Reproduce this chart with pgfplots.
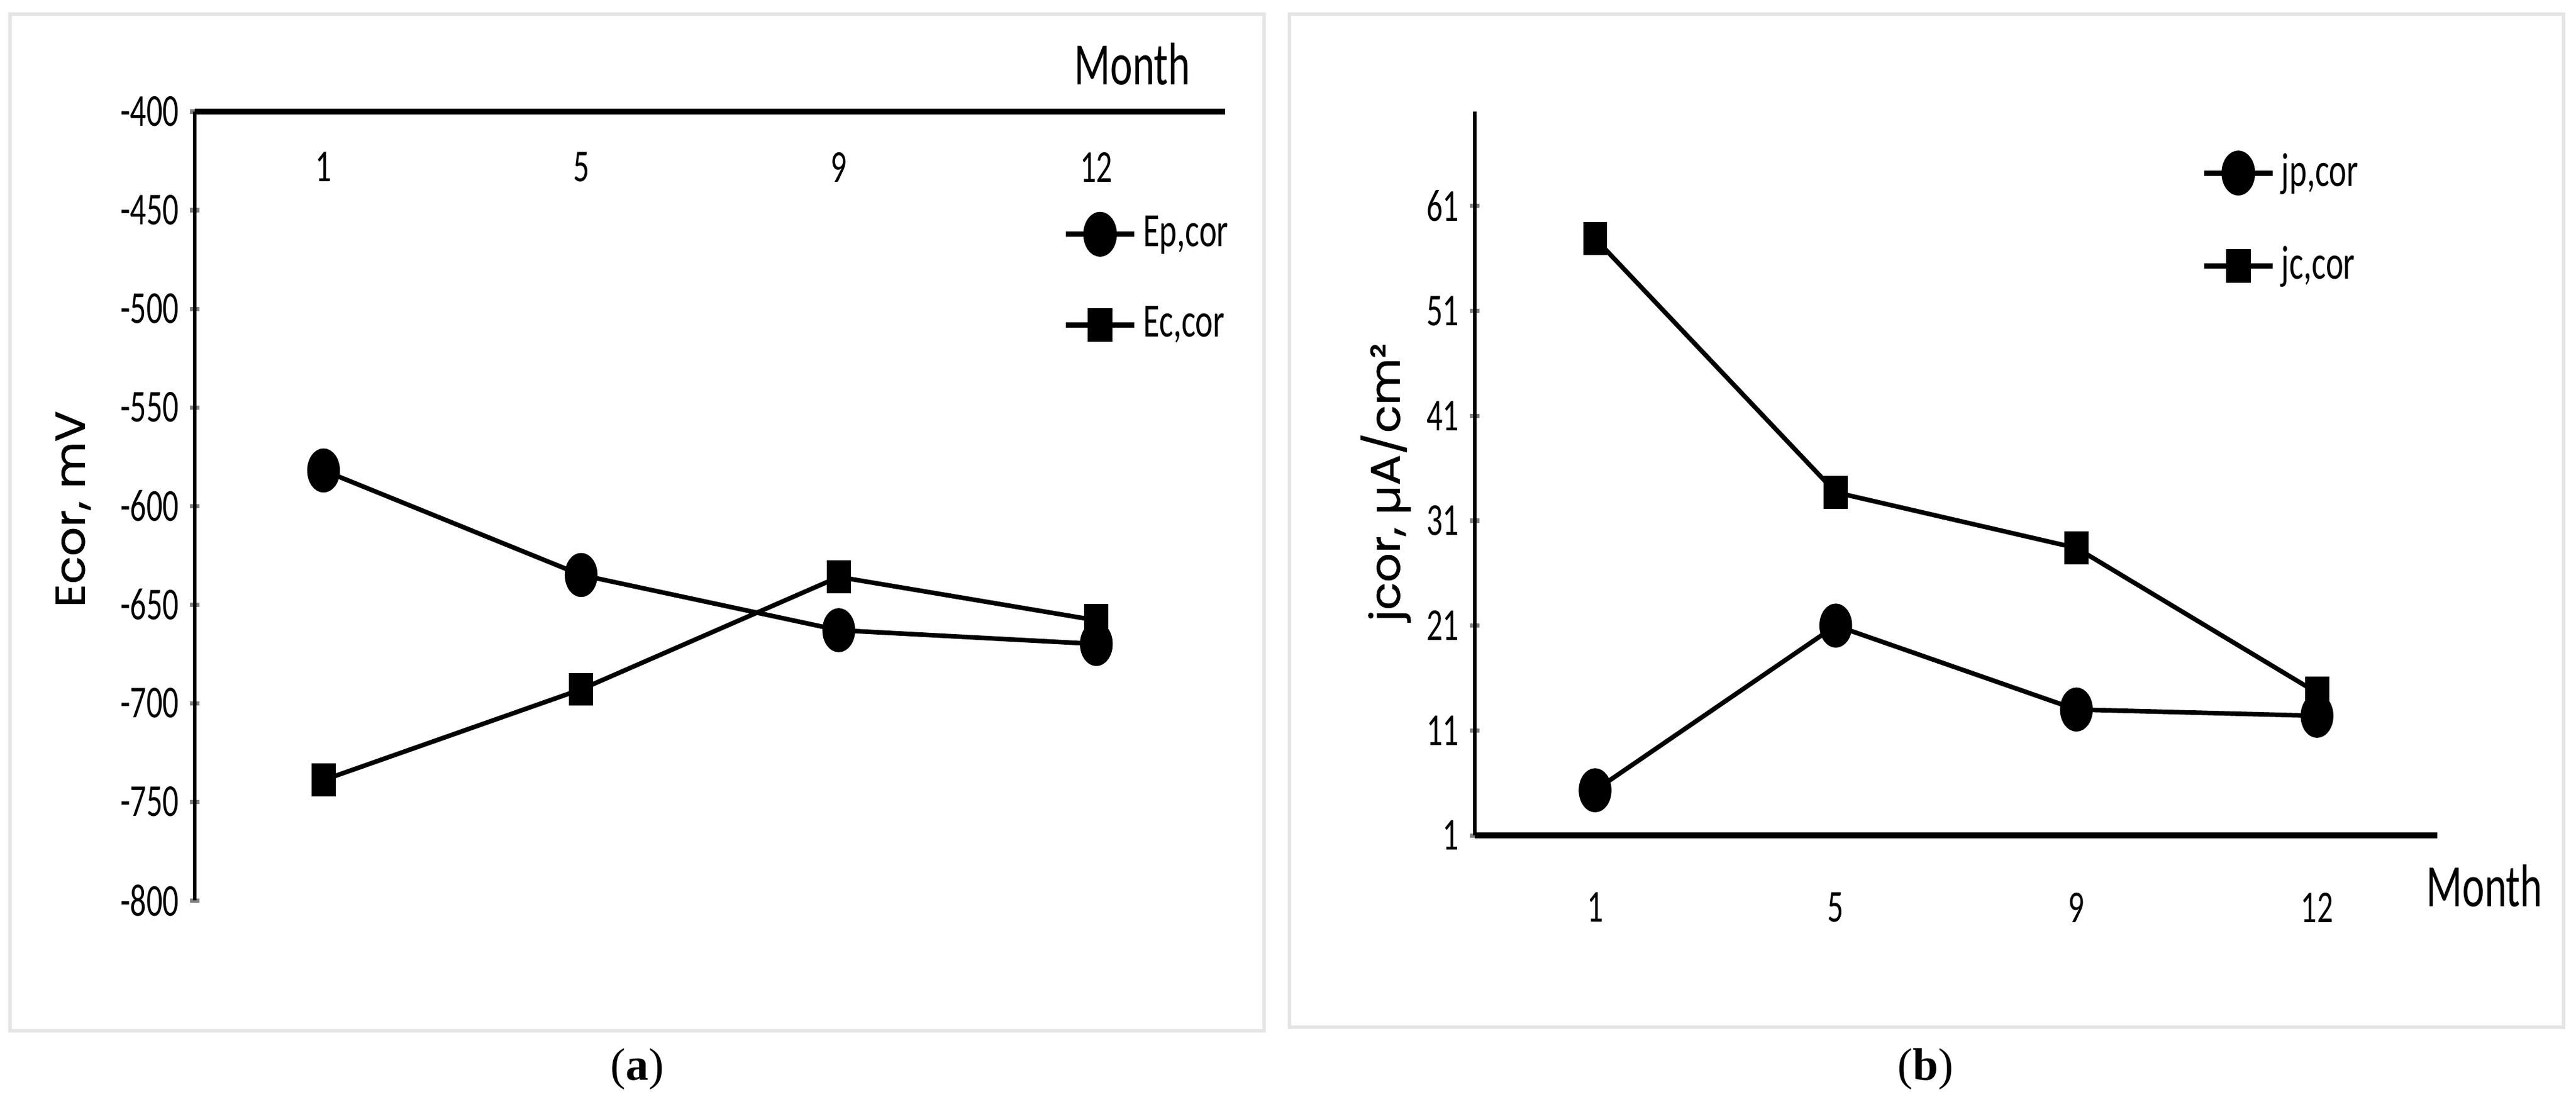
\documentclass[border=0pt]{standalone}
\usepackage{fontspec}
\setmainfont{Carlito}
\newfontfamily\labfont[FakeBold=0.8]{Poppins}
\newfontfamily\capfont{Liberation Serif}
\usepackage{graphicx}
\usepackage{pgfplots}
\pgfplotsset{compat=1.18}

% the source figure is stretched vertically, so horizontal text looks narrow
\newcommand{\nar}[1]{\scalebox{0.7}[1]{#1}}

\pgfplotstableread{
m Ep Ec
0 -582 -739
1 -635 -693
2 -663 -636
3 -670 -658
}\potential

\pgfplotstableread{
m jp jc
0 5.3 57.9
1 21.0 33.7
2 13.0 28.4
3 12.4 14.6
}\current

\pgfplotsset{
  panel/.style={
    scale only axis, clip=false,
    xmin=-0.5, xmax=3.5,
    xtick={0,1,2,3},
    xticklabels={\nar{1},\nar{5},\nar{9},\nar{12}},
    tick align=inside,
    major tick length=0.08cm,
    xtick style={draw=none},
    ytick style={line width=1pt},
    tick label style={font=\fontsize{11}{12}\selectfont},
    yticklabel style={anchor=east, xshift=0.03cm},
    legend style={draw=none, fill=none, inner sep=0pt, row sep=0.35cm,
      font=\fontsize{11.5}{13}\selectfont, nodes={inner sep=1.5pt}},
    legend cell align=left,
    legend image code/.code={
      \draw[mark repeat=2,mark phase=2,##1,line width=1.3pt] plot coordinates {(0cm,0cm) (0.29cm,0cm) (0.58cm,0cm)};},
  },
  fixlines/.style={
    x axis line style={-, line width=1.3pt},
    y axis line style={-, line width=0.8pt},
  },
  circ/.style={black, line width=1.1pt, mark=*, mark size=3.4pt, mark options={solid, yscale=1.4}},
  sq/.style={black, line width=1.1pt, mark=square*, mark size=2.35pt, mark options={solid, yscale=1.45}},
}

\begin{document}
\begin{tikzpicture}
\path (0,0) rectangle (21.825,9.28);
\draw[draw=gray!20, line width=0.9pt] (0.085,0.55) rectangle (10.71,9.16);
\draw[draw=gray!20, line width=0.9pt] (10.925,0.58) rectangle (21.72,9.16);

\begin{axis}[panel,
  at={(1.65cm,1.655cm)}, anchor=south west,
  width=8.73cm, height=6.68cm,
  axis x line=top, axis y line=left, fixlines,
  xticklabel style={anchor=north, yshift=-0.26cm},
  ymin=-800, ymax=-400,
  ytick={-800,-750,-700,-650,-600,-550,-500,-450,-400},
  yticklabels={\nar{-800},\nar{-750},\nar{-700},\nar{-650},\nar{-600},\nar{-550},\nar{-500},\nar{-450},\nar{-400}},
  xlabel={\fontsize{14.5}{16}\selectfont\nar{Month}},
  xlabel style={at={(axis description cs:0.910,1.060)}, anchor=center},
  ylabel={\labfont\fontsize{10}{12}\selectfont\scalebox{1.1}[1]{Ecor, mV}},
  ylabel style={at={(axis description cs:-0.118,0.496)}, anchor=center},
  legend style={at={(axis description cs:0.842,0.787)}, anchor=west},
]
\addplot[circ] table[x=m, y=Ep] {\potential};
\addlegendentry{\nar{Ep,cor}}
\addplot[sq] table[x=m, y=Ec] {\potential};
\addlegendentry{\nar{Ec,cor}}
\end{axis}

\begin{axis}[panel,
  at={(12.495cm,2.205cm)}, anchor=south west,
  width=8.155cm, height=6.13cm,
  axis x line=bottom, axis y line=left, fixlines,
  xticklabel style={anchor=north, yshift=-0.32cm},
  ymin=1, ymax=70,
  ytick={1,11,21,31,41,51,61},
  yticklabels={\nar{1},\nar{11},\nar{21},\nar{31},\nar{41},\nar{51},\nar{61}},
  xlabel={\fontsize{14.5}{16}\selectfont\nar{Month}},
  xlabel style={at={(axis description cs:1.049,-0.070)}, anchor=center},
  ylabel={\labfont\fontsize{10}{12}\selectfont\scalebox{1.1}[1]{jcor, µA/cm²}},
  ylabel style={at={(axis description cs:-0.0926,0.488)}, anchor=center},
  legend style={at={(axis description cs:0.754,0.851)}, anchor=west},
]
\addplot[circ] table[x=m, y=jp] {\current};
\addlegendentry{\nar{jp,cor}}
\addplot[sq] table[x=m, y=jc] {\current};
\addlegendentry{\nar{jc,cor}}
\end{axis}

\node[font=\capfont\fontsize{11}{13}\selectfont] at (5.4,0.225) {(\textbf{a})};
\node[font=\capfont\fontsize{11}{13}\selectfont] at (16.315,0.225) {(\textbf{b})};
\end{tikzpicture}
\end{document}
